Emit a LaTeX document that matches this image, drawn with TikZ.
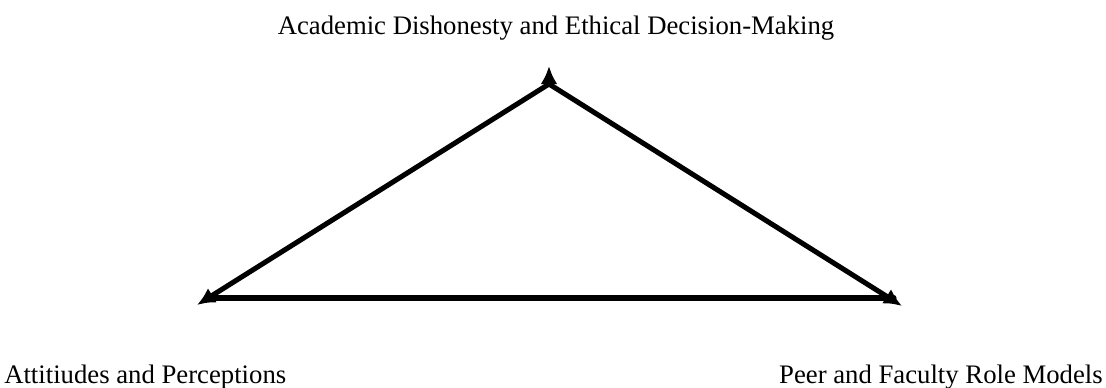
\documentclass[tikz,border=0pt]{standalone}
\usepackage{fontspec}
\setmainfont{Liberation Serif}
\usetikzlibrary{arrows.meta,positioning}

\begin{document}
\begin{tikzpicture}[
  x=0.025cm, y=-0.025cm,
  lbl/.style={font=\fontsize{19}{23}\selectfont, inner sep=0pt},
  side/.style={draw, line width=3.6pt, line cap=round},
  tip/.style={-{Latex[length=0.45cm, width=0.42cm]}}
]
  \useasboundingbox (0,0) rectangle (1106,388);

  \node[lbl, anchor=base]      (top)  at (556,34)  {Academic Dishonesty and Ethical Decision-Making};
  \node[lbl, anchor=base west] (att)  at (4,383)   {Attitiudes and Perceptions};
  \node[lbl, anchor=base east] (peer) at (1103,383){Peer and Faculty Role Models};

  \coordinate (apex)  at (549,84);
  \coordinate (up)    at (549,66);
  \coordinate (lbase) at (208,298);
  \coordinate (rbase) at (894,298);
  \coordinate (ltip)  at (197,305);
  \coordinate (rtip)  at (902,306);

  \draw[side] (lbase) -- (rbase);
  \draw[side, tip] (apex) -- (ltip);
  \draw[side, tip] (apex) -- (rtip);
  \draw[side, tip] (apex) -- (up);
\end{tikzpicture}
\end{document}
